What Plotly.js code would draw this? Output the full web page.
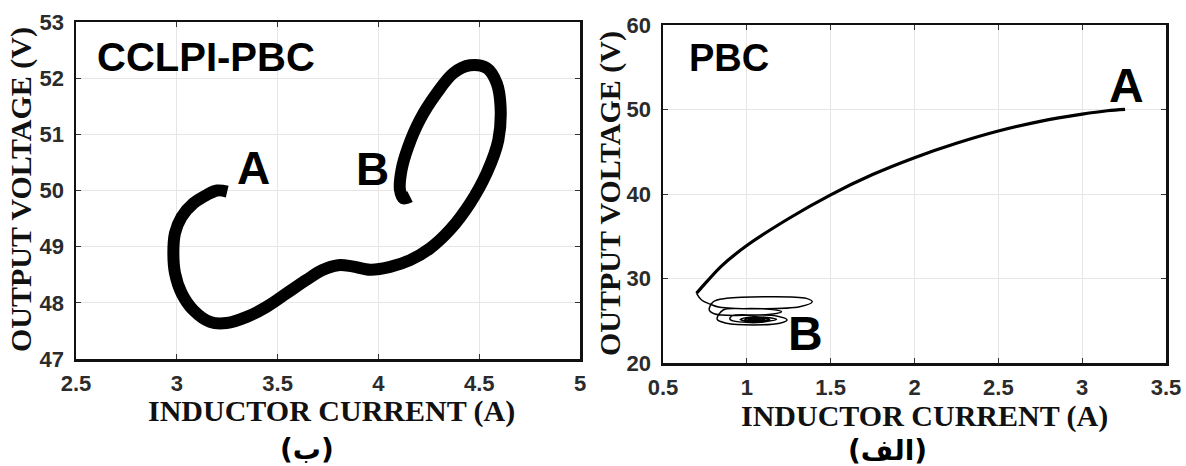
<!DOCTYPE html>
<html>
<head>
<meta charset="utf-8">
<script src="https://cdn.plot.ly/plotly-3.0.1.min.js"></script>
<style>
  html, body { margin: 0; padding: 0; background: #fff; }
  #chart { width: 1186px; height: 466px; }
</style>
</head>
<body>
<div id="chart"></div>
<script>
// ---------- data ----------
// Left panel: CCLPI-PBC trajectory from A to B
const leftCurrent = [3.250, 3.200, 3.148, 3.082, 3.024, 2.991, 2.983, 2.991, 3.024, 3.082, 3.165, 3.247, 3.347, 3.446, 3.545, 3.644, 3.720, 3.800, 3.870, 3.960, 4.058, 4.157, 4.256, 4.355, 4.454, 4.537, 4.595, 4.606, 4.587, 4.537, 4.454, 4.372, 4.289, 4.206, 4.148, 4.115, 4.107, 4.124, 4.157];
const leftVoltage = [49.98, 50.00, 49.92, 49.77, 49.53, 49.24, 48.88, 48.53, 48.17, 47.87, 47.66, 47.64, 47.75, 47.93, 48.17, 48.41, 48.58, 48.67, 48.65, 48.59, 48.64, 48.76, 48.97, 49.30, 49.77, 50.31, 50.90, 51.49, 51.91, 52.18, 52.23, 52.09, 51.73, 51.26, 50.78, 50.37, 50.01, 49.86, 49.89];

// Right panel: PBC trajectory from A down to the tip
const rightCurrent = [3.256, 3.150, 3.000, 2.750, 2.500, 2.250, 2.000, 1.750, 1.500, 1.250, 1.000, 0.850, 0.760, 0.700];
const rightVoltage = [50.02, 49.85, 49.45, 48.60, 47.45, 46.00, 44.30, 42.30, 39.90, 37.10, 33.90, 31.50, 29.60, 28.25];

// Right panel: decaying spiral from the tip towards B
const spiralCurrent = [0.700, 0.730, 0.780, 0.839, 1.077, 1.315, 1.390, 1.355, 1.117, 0.879, 0.800, 0.776, 0.810, 0.978, 1.157, 1.207, 1.137, 0.978, 0.859, 0.823, 0.879, 1.038, 1.196, 1.240, 1.177, 1.038, 0.909, 0.900, 1.038, 1.177, 1.038, 0.960, 1.048, 1.137, 1.048, 0.988, 1.048, 1.107, 1.048, 1.010, 1.048, 1.085, 1.048, 1.030];
const spiralVoltage = [28.25, 27.46, 26.98, 26.59, 26.43, 26.66, 27.25, 27.65, 27.85, 27.65, 27.25, 26.27, 25.80, 25.64, 25.80, 26.07, 26.35, 26.43, 26.27, 25.17, 24.70, 24.50, 24.70, 25.09, 25.56, 25.68, 25.56, 25.17, 24.77, 25.17, 25.48, 25.15, 24.89, 25.13, 25.41, 25.15, 25.00, 25.15, 25.30, 25.15, 25.07, 25.15, 25.22, 25.15];

// Tick labels
const leftXTicks = [2.5, 3, 3.5, 4, 4.5, 5];
const leftXTickText = ['2.5', '3', '3.5', '4', '4.5', '5'];
const leftYTicks = [47, 48, 49, 50, 51, 52, 53];
const leftYTickText = ['47', '48', '49', '50', '51', '52', '53'];
const rightXTicks = [0.5, 1, 1.5, 2, 2.5, 3, 3.5];
const rightXTickText = ['0.5', '1', '1.5', '2', '2.5', '3', '3.5'];
const rightYTicks = [20, 30, 40, 50, 60];
const rightYTickText = ['20', '30', '40', '50', '60'];

// Texts
const xTitle = 'INDUCTOR CURRENT (A)';
const yTitle = 'OUTPUT VOLTAGE (V)';
const leftName = 'CCLPI-PBC';
const rightName = 'PBC';
const leftCaption = '(ب)';
const rightCaption = '(الف)';

// ---------- layout helpers ----------
const W = 1186, H = 466;
const px = v => v / W;
const py = v => 1 - v / H;
const bold = arr => arr.map(s => '<b>' + s + '</b>');

const tickFont = { family: 'Liberation Sans, Arial, sans-serif', size: 22, color: '#2b2b2b', weight: 700 };
const serifTitle = { family: 'Liberation Serif, Times New Roman, serif', size: 30, color: '#111111', weight: 700 };

function axisBase(extra) {
  return Object.assign({
    showline: true, linecolor: '#111111', linewidth: 2.5, mirror: 'ticks',
    ticks: 'inside', ticklen: 5, tickwidth: 1, tickcolor: '#333333',
    showgrid: true, gridcolor: '#e6e6e6', gridwidth: 1,
    zeroline: false, tickfont: tickFont, fixedrange: true,
    tickmode: 'array', ticklabelstandoff: 5
  }, extra);
}

const traces = [
  {
    x: leftCurrent, y: leftVoltage, xaxis: 'x', yaxis: 'y',
    mode: 'lines', line: { color: '#000000', width: 12, shape: 'spline', smoothing: 1 },
    hoverinfo: 'skip', showlegend: false
  },
  {
    x: rightCurrent, y: rightVoltage, xaxis: 'x2', yaxis: 'y2',
    mode: 'lines', line: { color: '#000000', width: 3.2, shape: 'spline', smoothing: 1 },
    hoverinfo: 'skip', showlegend: false
  },
  {
    x: spiralCurrent, y: spiralVoltage, xaxis: 'x2', yaxis: 'y2',
    mode: 'lines', line: { color: '#000000', width: 1.5, shape: 'spline', smoothing: 1 },
    hoverinfo: 'skip', showlegend: false
  }
];

function label(text, x, y, size, xanchor) {
  return {
    text: '<b>' + text + '</b>', xref: 'paper', yref: 'paper', x: px(x), y: py(y),
    xanchor: xanchor || 'center', yanchor: 'middle', showarrow: false,
    font: { family: 'Liberation Sans, Arial, sans-serif', size: size, color: '#000000' }
  };
}

function title(text, x, y, angle) {
  return {
    text: '<b>' + text + '</b>', xref: 'paper', yref: 'paper', x: px(x), y: py(y),
    xanchor: 'center', yanchor: 'middle', textangle: angle || 0, showarrow: false,
    font: serifTitle
  };
}

const annotations = [
  label(leftName, 95, 57, 40, 'left'),
  label('A', 253, 168, 46),
  label('B', 372, 169, 46),
  label(rightName, 687, 58, 38, 'left'),
  label('A', 1126, 86, 48),
  label('B', 805, 333, 48),
  title(xTitle, 331, 411),
  title(xTitle, 924, 416),
  title(yTitle, 21, 190, -90),
  title(yTitle, 610, 194, -90),
  { text: '<b>' + leftCaption + '</b>', xref: 'paper', yref: 'paper', x: px(307), y: py(449), xanchor: 'center', yanchor: 'middle', showarrow: false,
    font: { family: 'DejaVu Sans, Noto Sans, sans-serif', size: 28, color: '#000000' } },
  { text: '<b>' + rightCaption + '</b>', xref: 'paper', yref: 'paper', x: px(887), y: py(450), xanchor: 'center', yanchor: 'middle', showarrow: false,
    font: { family: 'DejaVu Sans, Noto Sans, sans-serif', size: 28, color: '#000000' } }
];

const layout = {
  width: W, height: H,
  margin: { l: 0, r: 0, t: 0, b: 0, pad: 0 },
  font: { family: 'Liberation Sans, Arial, sans-serif', size: 22, color: '#2b2b2b' },
  paper_bgcolor: '#ffffff', plot_bgcolor: '#ffffff',
  showlegend: false,
  xaxis: axisBase({ domain: [px(76), px(580)], range: [2.5, 5], tickvals: leftXTicks, ticktext: bold(leftXTickText), anchor: 'y', ticklabelstandoff: 3 }),
  yaxis: axisBase({ domain: [py(359), py(22)], range: [47, 53], tickvals: leftYTicks, ticktext: bold(leftYTickText), anchor: 'x' }),
  xaxis2: axisBase({ domain: [px(663), px(1166)], range: [0.5, 3.5], tickvals: rightXTicks, ticktext: bold(rightXTickText), anchor: 'y2', ticklabelstandoff: 3 }),
  yaxis2: axisBase({ domain: [py(363), py(25)], range: [20, 60], tickvals: rightYTicks, ticktext: bold(rightYTickText), anchor: 'x2' }),
  annotations: annotations
};

Plotly.newPlot('chart', traces, layout, { staticPlot: true, displayModeBar: false });
</script>
</body>
</html>
